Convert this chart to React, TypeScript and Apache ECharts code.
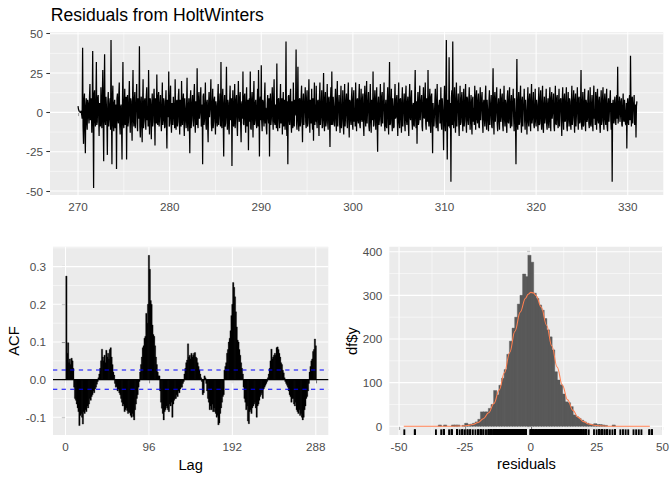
import React, { useEffect, useRef } from "react";
import * as echarts from "echarts";

// ---------- DATA ----------
// residual series: starts at day 270, one value every 0.05 day (one row = one day)
const residualStart = 270;
const residualStep = 0.05;
const residuals: number[] = [
  4, 2, 1, 0.5, 0.5, 0, 0, 1, 1, -4, 41, -9, -20, 7, 12, -11, -26, 4, 9, -6,
  -11, 8, 6, -3, -7, 10, 18, -5, 3, 9, -13, 2, 39, -6, -48, 11, 14, -4, -9, 7,
  32, -8, -6, 9, 11, -2, -15, 6, 5, -9, 16, 3, -10, 8, 27, -7, -31, 10, 37, -5,
  -8, 10, 4, -6, -27, 7, 13, -9, -4, 5, 9, -11, 46, -3, -33, 8, 17, -7, -12, 6,
  8, -10, -2, 5, -36, 9, 12, -4, -7, 11, 19, -8, -14, 3, 5, -9, -30, 6, 32, -7,
  -10, 4, 15, -8, 2, 10, -30, 5, 11, -9, -6, 7, 20, -2, -13, 9, 7, -6, -18, 8,
  27, -5, -9, 8, 13, -10, 1, 6, 18, -7, -12, 9, 6, -4, 42, -9, -16, 5, 10, -8,
  -19, 6, 21, -10, -4, 7, 9, -6, -11, 10, 16, -5, 3, -9, 27, 4, -14, 9, 8, -3,
  -17, 5, 12, -9, -6, 8, 15, -2, -21, 9, 4, -7, 24, -4, -8, 10, 13, -9, -3, 6,
  11, -6, -12, 3, 19, -8, -5, 9, 7, -10, -9, 5, 14, -7, -23, 8, 6, -3, 26, -9,
  -7, 9, 17, -5, -13, 6, 2, -8, 10, 4, -4, -10, 21, -3, -11, 7, 8, -9, -6, 10,
  15, -4, -14, 8, 5, -9, 20, 2, -8, 7, 12, -6, -15, 9, 3, -5, -10, 6, 22, -8,
  -12, 4, 9, -7, -26, 8, 14, -10, -3, 6, 11, -5, -9, 10, 18, -4, -13, 7, 6, -8,
  28, -6, -10, 9, 13, -4, 0, 7, 16, -9, -7, 5, -33, 10, 12, -8, -5, 4, 19, -7,
  -11, 6, 8, -9, -19, 5, 13, -3, 2, 9, 21, -7, -12, 4, 15, -10, -6, 8, 10, -5,
  -14, 7, 4, -6, -9, 10, 18, -8, -2, 6, 12, -9, 32, -4, -10, 8, 15, -6, -28, 5,
  11, -9, -7, 5, 29, -3, -11, 8, 6, -10, -14, 7, 17, -5, 1, 9, -34, 3, 14, -8,
  -9, 6, 18, -10, -3, 8, 11, -7, -15, 4, 20, -2, -6, 9, 13, -8, -19, 5, 7, -4,
  26, -7, -8, 10, 12, -5, -13, 6, 16, -9, 2, 8, -24, 4, 9, -6, 26, -10, -11, 7,
  13, -3, -16, 9, 20, -8, -5, 6, 8, -7, -10, 4, 15, -9, 27, 2, -28, 7, 10, -5,
  30, -6, -12, 8, 7, -4, -9, 10, 19, -7, 3, -10, -14, 5, 11, -3, -7, 9, -28, 6,
  12, -8, -4, 7, 16, -5, -11, 9, 21, -6, -8, 4, 5, -10, 31, -7, -12, 8, 9, -3,
  -10, 6, 18, -7, 2, 9, -14, 3, 13, -9, -6, 8, -11, 5, 45, -8, -15, 7, -33, 10,
  11, -4, -8, 9, 15, -6, -13, 7, 4, -10, 19, -3, -9, 8, -2, 6, 40, -7, -11, 5,
  29, -5, -12, 8, 9, -9, -6, 10, 17, -4, -19, 6, 12, -8, 0, 7, 16, -6, -10, 9,
  14, -9, -7, 6, 21, -3, -13, 8, 3, -7, 15, -5, -11, 9, -18, 4, 19, -8, 5, -6,
  17, -6, -10, 7, 8, -4, -15, 9, 19, -8, -3, 5, 14, -10, -9, 6, 25, -5, -12, 8,
  13, -9, -6, 4, 18, -7, -11, 9, 10, -5, -22, 6, 16, -8, 26, -3, -8, 10, 4, -6,
  -9, 7, 15, -4, -12, 8, 20, -9, 1, 5, 11, -7, -13, 6, 17, -10, -5, 3, 14, -8,
  -14, 5, 18, -9, -2, 7, 12, -6, -10, 9, 19, -4, -16, 8, 7, -5, -8, 10, 16, -7,
  -11, 8, 14, -6, 3, -9, 19, 4, -12, 7, 9, -5, -7, 10, 18, -8, -10, 6, 15, -4,
  -6, 9, 12, -8, -15, 5, 17, -3, -9, 10, 20, -7, 1, 6, 13, -9, -12, 4, 18, -6,
  -13, 8, 6, -5, 26, -9, -8, 7, 14, -4, -11, 9, 16, -7, -25, 5, 10, -8, -4, 6,
  18, -5, -9, 10, 13, -7, 2, 6, 19, -8, -12, 4, 8, -9, -10, 7, 16, -3, -14, 9,
  32, -8, -7, 6, 15, -5, -12, 9, 4, -10, -9, 7, 18, -4, -3, 8, 11, -6, -15, 5,
  19, -6, -10, 8, 9, -4, -13, 7, 16, -9, 0, 5, 12, -7, -12, 10, 17, -5, -8, 6,
  10, -7, -15, 9, 18, -3, -5, 8, 14, -6, -11, 4, 6, -8, -9, 10, 27, -4, -10, 7,
  -20, 5, 13, -8, -6, 9, 17, -5, 2, 7, 11, -9, -12, 6, 16, -3, -4, 8, 19, -7,
  -11, 9, 8, -6, 27, -4, -9, 7, 15, -8, -13, 10, 12, -5, -26, 6, 6, -9, -2, 8,
  15, -5, -10, 7, 18, -9, -12, 4, 5, 8, -7, -6, 16, -8, -11, 9, 9, -4, -24, 6,
  17, -7, -12, 10, 46, -5, -30, 8, 8, -9, 35, -3, -10, 6, -44, 9, 14, -8, 45, -6,
  -10, 7, 16, -5, -13, 8, 19, -9, 1, 6, 12, -7, -15, 4, 17, -8, -6, 9, 13, -4,
  -12, 6, 15, -9, -4, 7, 18, -6, -13, 10, 9, -5, -8, 8, 16, -3, -11, 5, 11, -7,
  -14, 8, 10, -6, 3, -8, 17, 5, -11, 9, 14, -4, -7, 7, 12, -9, -10, 6, 16, -5,
  -5, 9, 13, -7, -13, 6, 8, -4, -9, 10, 17, -6, -11, 8, 2, -5, -12, 7, 14, -8,
  -8, 5, 11, -9, -10, 7, 28, -4, -14, 8, 13, -6, 0, 9, 16, -7, -12, 4, 9, -5,
  -11, 7, 15, -6, -3, 9, 12, -8, -12, 5, 17, -4, -9, 8, 6, -7, -13, 10, 14, -6,
  -7, 8, 16, -5, -10, 6, 11, -9, 1, 7, 15, -4, -12, 9, 9, -7, -33, 5, 34, -8,
  -11, 6, 13, -8, -6, 9, 17, -4, -13, 7, 10, -9, 3, 5, 15, -6, -11, 8, 8, -5,
  -14, 7, 16, -6, -9, 8, 12, -5, -12, 9, 18, -7, -4, 6, 13, -8, -10, 4, 15, -6,
  -9, 8, 5, -4, -12, 7, 16, -8, -7, 9, 14, -5, -11, 6, 17, -9, -13, 5, 10, -7,
  -4, 6, 15, -8, -11, 5, 9, -7, -10, 8, 16, -6, -12, 9, 13, -4, 0, 7, 12, -9,
  -12, 5, 17, -7, -8, 9, 11, -5, -10, 6, 15, -9, 2, 8, 9, -6, -15, 7, 16, -4,
  -11, 8, 12, -6, -5, 7, 16, -9, -12, 5, 13, -4, -9, 9, 7, -7, -11, 6, 17, -8,
  -3, 7, 14, -5, -13, 8, 12, -9, -9, 6, 16, -4, -11, 9, 10, -7, -6, 5, 27, -8,
  -11, 6, 13, -9, -8, 7, 15, -5, -12, 8, 6, -6, -4, 9, 14, -7, -10, 4, 16, -8,
  -9, 5, 11, -7, -12, 8, 17, -4, 1, -8, 13, 6, -11, 9, 15, -5, -7, 7, 10, -9,
  -13, 6, 14, -8, -5, 9, 16, -6, -11, 7, 12, -4, -8, 8, 15, -9, -12, 5, 9, -6,
  -6, 8, 14, -5, -11, 6, -44, 4, 8, -6, -7, 7, 10, -5, -8, 6, 11, -4, 29, -7,
  -7, 5, 10, -6, -2, 7, 9, -8, -9, 4, 12, -5, -6, 8, 8, -7, -8, 6, -23, 5,
  9, -6, -8, 7, 11, -5, 36, 4, -9, 8, 10, -7, 3, 6, 11, -8, -8, 5, -16, 4,
  7,
];

// ACF values for lags 1..288
const acfValues: number[] = [
  0.275, 0.07, 0.098, 0.045, 0.055, 0.04, 0.057, 0.05, 0.03,
  -0.02, -0.05, -0.055, -0.065, -0.075, -0.085, -0.122, -0.095, -0.09, -0.1,
  -0.118, -0.085, -0.09, -0.08, -0.085, -0.07, -0.075, -0.065, -0.05, -0.055,
  -0.045, -0.04, -0.03, -0.035, -0.025, -0.02, -0.012, -0.005,
  0.005, 0.015, 0.03, 0.05, 0.081, 0.06, 0.05, 0.065, 0.045, 0.078,
  0.06, 0.07, 0.055, 0.08, 0.085, 0.06, 0.04, 0.02, 0.012,
  -0.01, -0.02, -0.018, -0.03, -0.025, -0.035, -0.04, -0.05, -0.06, -0.07,
  -0.065, -0.085, -0.08, -0.075, -0.082, -0.09, -0.085, -0.088, -0.095, -0.1,
  -0.09, -0.098, -0.107, -0.08, -0.065, -0.05, -0.04, -0.02, -0.005,
  0.02, 0.04, 0.06, 0.085, 0.09, 0.11, 0.115, 0.176, 0.15, 0.2,
  0.33, 0.293, 0.21, 0.2, 0.145, 0.12, 0.115, 0.09, 0.06, 0.04, 0.02, 0.01,
  0.01, -0.03, -0.06, -0.076, -0.09, -0.107, -0.085, -0.08, -0.07, -0.075,
  -0.08, -0.085, -0.065, -0.07, -0.06, -0.1, -0.065, -0.055, -0.05, -0.05,
  -0.04, -0.045, -0.03, -0.035, -0.025, -0.02, -0.02, -0.01, -0.005,
  0.015, 0.03, 0.045, 0.052, 0.095, 0.06, 0.065, 0.055, 0.07, 0.06,
  0.065, 0.07, 0.072, 0.06, 0.057, 0.045, 0.035, 0.026, 0.015, 0.005,
  -0.005, -0.04, -0.035, 0.01, 0.005,
  -0.01, -0.03, -0.05, -0.06, -0.08, -0.07, -0.08, -0.065, -0.085, -0.075,
  -0.085, -0.09, -0.1, -0.095, -0.12, -0.115, -0.09, -0.075, -0.06, -0.045, -0.04,
  0.025, 0.035, 0.045, 0.07, 0.08, 0.1, 0.11, 0.13, 0.17, 0.2,
  0.258, 0.245, 0.22, 0.18, 0.14, 0.105, 0.1, 0.08, 0.065, 0.045, 0.03, 0.015,
  -0.02, -0.05, -0.06, -0.08, -0.07, -0.11, -0.117, -0.085, -0.08, -0.09,
  -0.075, -0.07, -0.065, -0.06, -0.075, -0.1, -0.07, -0.065, -0.055, -0.045,
  -0.04, -0.035, -0.05, -0.025, -0.02, -0.015, -0.01, -0.005,
  0.005, 0.015, 0.03, 0.05, 0.081, 0.055, 0.06, 0.065, 0.07, 0.065,
  0.085, 0.087, 0.08, 0.07, 0.06, 0.045, 0.04, 0.025, 0.018, 0.005,
  -0.005, -0.01, -0.015, -0.02, -0.03, -0.04, -0.045, -0.06, -0.05, -0.05,
  -0.065, -0.07, -0.06, -0.08, -0.085, -0.09, -0.08, -0.095, -0.09, -0.1,
  -0.107, -0.1, -0.08, -0.07, -0.05, -0.045, -0.03, -0.01,
  0.02, 0.035, 0.05, 0.055, 0.075, 0.08, 0.108, 0.09,
];
const acfBound = 0.0256;

// histogram: bin left edges and counts (bin width 1)
const histBinLeft: number[] = [
  -35, -34, -33, -32, -31, -30, -29, -28, -27, -26, -25, -24, -23, -22, -21, -20,
  -19, -18, -17, -16, -15, -14, -13, -12, -11, -10, -9, -8, -7, -6, -5, -4,
  -3, -2, -1, 0, 1, 2, 3, 4, 5, 6, 7, 8, 9, 10, 11, 12,
  13, 14, 15, 16, 17, 18, 19, 20, 21, 22, 23, 24, 25, 26, 27, 28, 29, 30, 31,
];
const histCounts: number[] = [
  3, 0, 3, 0, 0, 3, 3, 3, 0, 2, 7, 4, 5, 7, 10, 16,
  33, 33, 33, 41, 50, 82, 72, 94, 110, 130, 165, 195, 225, 250, 280, 300,
  349, 343, 392, 376, 305, 293, 278, 266, 247, 221, 205, 175, 125, 106, 95, 74,
  56, 54, 45, 26, 22, 18, 14, 10, 7, 5, 4, 6, 4, 4, 3, 2, 0, 0, 3,
];
const histBinWidth = 1;

// fitted normal curve (count scale)
const normalX: number[] = [
  -48.2, -30, -26, -24, -22, -20, -18, -16, -14, -12, -10, -8, -6, -4, -2, -1,
  0, 1, 2, 4, 6, 8, 10, 12, 14, 16, 18, 20, 22, 24, 26, 30, 45.2,
];
const normalY: number[] = [
  0, 0.1, 0.8, 1.9, 4.2, 8.7, 17.4, 30.8, 52.3, 82.9, 122.6, 169.2, 217.8, 261.6, 293.3, 302.5,
  306.8, 305.7, 299.4, 272.6, 231.7, 183.8, 136, 94, 60.5, 36.4, 20.4, 10.7, 5.2, 2.4, 1.0, 0.15, 0,
];

// axis ticks and grid lines
const topXTicks = [270, 280, 290, 300, 310, 320, 330];
const topXMinor = [275, 285, 295, 305, 315, 325];
const topYTicks = [-50, -25, 0, 25, 50];
const topYMinor = [-37.5, -12.5, 12.5, 37.5];
const acfXTicks = [0, 96, 192, 288];
const acfYTicks = [-0.1, 0, 0.1, 0.2, 0.3];
const acfYMinor = [-0.05, 0.05, 0.15, 0.25, 0.35];
const histXTicks = [-50, -25, 0, 25, 50];
const histXMinor = [-37.5, -12.5, 12.5, 37.5];
const histYTicks = [0, 100, 200, 300, 400];
const histYMinor = [50, 150, 250, 350];

// ---------- CHART ----------
const FONT = "'Liberation Sans', Arial, Helvetica, sans-serif";
const PANEL_BG = "#EBEBEB";

function gridLineSeries(
  idx: number,
  hMajor: number[],
  hMinor: number[],
  vMajor: number[],
  vMinor: number[],
  xMid: number,
  yMid: number
) {
  const data: number[][] = [];
  hMinor.forEach((v) => data.push([xMid, v, 0, 0]));
  vMinor.forEach((v) => data.push([v, yMid, 1, 0]));
  hMajor.forEach((v) => data.push([xMid, v, 0, 1]));
  vMajor.forEach((v) => data.push([v, yMid, 1, 1]));
  return {
    type: "custom",
    xAxisIndex: idx,
    yAxisIndex: idx,
    z: 1,
    silent: true,
    data,
    renderItem: (params: any, api: any) => {
      const cs = params.coordSys;
      const p = api.coord([api.value(0), api.value(1)]);
      const horizontal = api.value(2) === 0;
      const w = api.value(3) === 1 ? 1.07 : 0.53;
      const shape = horizontal
        ? { x1: cs.x, y1: p[1], x2: cs.x + cs.width, y2: p[1] }
        : { x1: p[0], y1: cs.y, x2: p[0], y2: cs.y + cs.height };
      return { type: "line", shape, style: { stroke: "#FFFFFF", lineWidth: w } };
    },
  };
}

function valueAxis(
  idx: number,
  min: number,
  max: number,
  ticks: number[],
  margin: number,
  fmt?: (v: number) => string
) {
  return {
    type: "value",
    gridIndex: idx,
    min,
    max,
    axisLine: { show: false },
    axisTick: {
      show: true,
      customValues: ticks,
      length: 3.7,
      lineStyle: { color: "#333333", width: 1.07 },
    },
    axisLabel: {
      show: true,
      customValues: ticks,
      color: "#4D4D4D",
      fontSize: 11.7,
      fontFamily: FONT,
      margin,
      formatter: fmt ? (v: number) => fmt(v) : (v: number) => String(v),
    },
    splitLine: { show: false },
    minorTick: { show: false },
    minorSplitLine: { show: false },
  };
}

function buildOption() {
  const gridCommon = { show: true, backgroundColor: PANEL_BG, borderWidth: 0, containLabel: false };
  return {
    animation: false,
    backgroundColor: "#FFFFFF",
    textStyle: { fontFamily: FONT },
    grid: [
      { ...gridCommon, left: 50, top: 32.3, width: 613.3, height: 162.7 },
      { ...gridCommon, left: 53, top: 246.7, width: 275.3, height: 188.3 },
      { ...gridCommon, left: 389.3, top: 246.7, width: 274, height: 188.3 },
    ],
    xAxis: [
      valueAxis(0, 266.94, 333.88, topXTicks, 5),
      valueAxis(1, -14.4, 302.4, acfXTicks, 5),
      valueAxis(2, -53.7, 50.2, histXTicks, 5),
    ],
    yAxis: [
      valueAxis(0, -52.5, 50.9, topYTicks, 7),
      valueAxis(1, -0.147, 0.353, acfYTicks, 7, (v) => v.toFixed(1)),
      valueAxis(2, -20, 411.5, histYTicks, 7),
    ],
    graphic: [
      {
        type: "text",
        left: 50.7,
        top: 6,
        style: { text: "Residuals from HoltWinters", fontSize: 17.6, fontFamily: FONT, fill: "#000000" },
      },
      {
        type: "text",
        x: 14,
        y: 341,
        rotation: Math.PI / 2,
        style: { text: "ACF", fontSize: 14.7, fontFamily: FONT, fill: "#000000", align: "center", verticalAlign: "middle" },
      },
      {
        type: "text",
        x: 190.7,
        y: 465,
        style: { text: "Lag", fontSize: 14.7, fontFamily: FONT, fill: "#000000", align: "center", verticalAlign: "middle" },
      },
      {
        type: "text",
        x: 352,
        y: 341,
        rotation: Math.PI / 2,
        style: { text: "df$y", fontSize: 14.7, fontFamily: FONT, fill: "#000000", align: "center", verticalAlign: "middle" },
      },
      {
        type: "text",
        x: 526.5,
        y: 464,
        style: { text: "residuals", fontSize: 14.7, fontFamily: FONT, fill: "#000000", align: "center", verticalAlign: "middle" },
      },
    ],
    series: [
      gridLineSeries(0, topYTicks, topYMinor, topXTicks, topXMinor, 300, 0),
      gridLineSeries(1, acfYTicks, acfYMinor, acfXTicks, [], 144, 0),
      gridLineSeries(2, histYTicks, histYMinor, histXTicks, histXMinor, 0, 200),
      {
        type: "line",
        xAxisIndex: 0,
        yAxisIndex: 0,
        z: 3,
        showSymbol: false,
        symbol: "none",
        silent: true,
        data: residuals.map((v, i) => [residualStart + i * residualStep, v]),
        lineStyle: { color: "#000000", width: 1.25, join: "miter", miterLimit: 2 },
      },
      {
        type: "custom",
        xAxisIndex: 1,
        yAxisIndex: 1,
        z: 3,
        silent: true,
        data: acfValues.map((v, i) => [i + 1, v]),
        renderItem: (params: any, api: any) => {
          const lag = api.value(0);
          const v = api.value(1);
          const pa = api.coord([lag - 0.8, 0]);
          const pb = api.coord([lag + 0.8, v]);
          return {
            type: "rect",
            shape: {
              x: pa[0],
              y: Math.min(pa[1], pb[1]),
              width: pb[0] - pa[0],
              height: Math.abs(pb[1] - pa[1]),
            },
            style: { fill: "#000000", stroke: "#000000", lineWidth: 0.3 },
          };
        },
      },
      {
        type: "custom",
        xAxisIndex: 1,
        yAxisIndex: 1,
        z: 4,
        silent: true,
        data: [
          [144, 0, 0],
          [144, acfBound, 1],
          [144, -acfBound, 1],
        ],
        renderItem: (params: any, api: any) => {
          const cs = params.coordSys;
          const p = api.coord([api.value(0), api.value(1)]);
          const dashed = api.value(2) === 1;
          return {
            type: "line",
            shape: { x1: cs.x, y1: p[1], x2: cs.x + cs.width, y2: p[1] },
            style: dashed
              ? { stroke: "#0000FF", lineWidth: 1.07, lineDash: [4.3, 4.3] }
              : { stroke: "#000000", lineWidth: 1.07 },
          };
        },
      },
      {
        type: "custom",
        xAxisIndex: 2,
        yAxisIndex: 2,
        z: 3,
        silent: true,
        data: histBinLeft.map((b, i) => [b, histCounts[i]]),
        renderItem: (params: any, api: any) => {
          const left = api.value(0);
          const c = api.value(1);
          if (!(c > 0)) return null;
          const p0 = api.coord([left, 0]);
          const p1 = api.coord([left + histBinWidth, c]);
          return {
            type: "rect",
            shape: { x: p0[0] - 0.3, y: p1[1], width: p1[0] - p0[0] + 0.6, height: p0[1] - p1[1] },
            style: { fill: "#595959", stroke: "#595959", lineWidth: 0.4 },
          };
        },
      },
      {
        type: "custom",
        xAxisIndex: 2,
        yAxisIndex: 2,
        z: 3,
        silent: true,
        data: residuals.map((v) => [v, 0]),
        renderItem: (params: any, api: any) => {
          const cs = params.coordSys;
          const p = api.coord([api.value(0), 0]);
          const bottom = cs.y + cs.height;
          return {
            type: "line",
            shape: { x1: p[0], y1: bottom, x2: p[0], y2: bottom - 0.03 * cs.height },
            style: { stroke: "#000000", lineWidth: 1.9 },
          };
        },
      },
      {
        type: "line",
        xAxisIndex: 2,
        yAxisIndex: 2,
        z: 4,
        showSymbol: false,
        symbol: "none",
        silent: true,
        smooth: 0.4,
        smoothMonotone: "x",
        data: normalX.map((x, i) => [x, normalY[i]]),
        lineStyle: { color: "#FF7F50", width: 1.07 },
      },
    ],
  };
}

export default function App() {
  const ref = useRef<HTMLDivElement>(null);
  useEffect(() => {
    if (!ref.current) return;
    const chart = echarts.init(ref.current, undefined, { renderer: "svg" });
    chart.setOption(buildOption() as any);
    return () => chart.dispose();
  }, []);
  return (
    <div
      ref={ref}
      style={{ position: "fixed", left: 0, top: 0, width: 672, height: 480, background: "#FFFFFF" }}
    />
  );
}
